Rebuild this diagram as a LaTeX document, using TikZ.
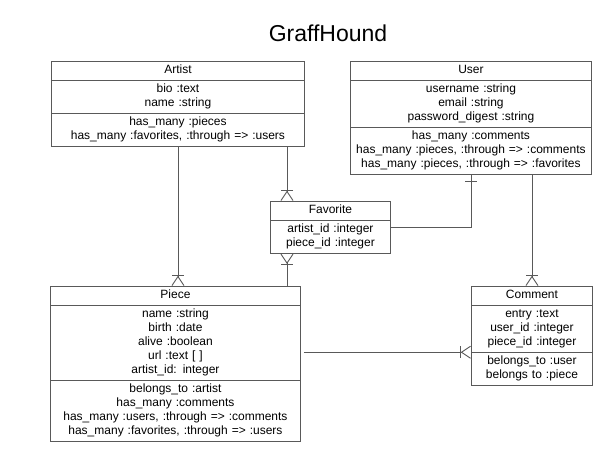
\documentclass[tikz,border=0pt]{standalone}
\usepackage{fontspec}
\setmainfont{Liberation Sans}
\usetikzlibrary{calc,arrows.meta,shapes.multipart,decorations.markings}
\newcommand{\rows}[1]{\strut#1\strut}

\begin{document}
\begin{tikzpicture}[x=1pt,y=-1pt,
    cls/.style={%
      rectangle split,
      rectangle split parts=#1,
      draw=black!65, line width=0.9pt,
      inner xsep=0pt, inner ysep=2pt,
      align=center, anchor=north west,
      font=\fontsize{12}{14}\selectfont
    },
    cls/.default=3,
    rel/.style={draw=black!65, line width=0.9pt},
    many/.style={-{Bar[width=12pt]Straight Barb[reversed,length=9pt,width=12pt]}},
    one/.style={postaction={decorate}, decoration={markings,
        mark=at position -7pt with {\draw[rel] (0pt,-6pt) -- (0pt,6pt);}}}
  ]
    \useasboundingbox (0,0) rectangle (613,460);

    \node (title) [anchor=base, font=\fontsize{23}{27}\selectfont] at (328,42) {GraffHound};

    \node (Artist) [cls, text width=253pt] at (51,61) {%
      \rows{Artist}
      \nodepart{two}\rows{bio :text\\name :string}
      \nodepart{three}\rows{has\_many :pieces\\has\_many :favorites, :through => :users}
    };
    \node (User) [cls, text width=241pt] at (350,61) {%
      \rows{User}
      \nodepart{two}\rows{username :string\\email :string\\password\_digest :string}
      \nodepart{three}\rows{has\_many :comments\\has\_many :pieces, :through => :comments\\has\_many :pieces, :through => :favorites}
    };
    \node (Favorite) [cls=2, text width=120pt] at (270,201) {%
      \rows{Favorite}
      \nodepart{two}\rows{artist\_id :integer\\piece\_id :integer}
    };
    \node (Piece) [cls, text width=250pt] at (50,286) {%
      \rows{Piece}
      \nodepart{two}\rows{name :string\\birth :date\\alive :boolean\\url :text [ ]\\artist\_id: integer}
      \nodepart{three}\rows{belongs\_to :artist\\has\_many :comments\\has\_many :users, :through => :comments\\has\_many :favorites, :through => :users}
    };
    \node (Comment) [cls, text width=121pt] at (471,286) {%
      \rows{Comment}
      \nodepart{two}\rows{entry :text\\user\_id :integer\\piece\_id :integer}
      \nodepart{three}\rows{belongs\_to :user\\belongs to :piece}
    };

    \coordinate (fav) at ($(Favorite.north west)+(17,0)$);

    \path[rel] (Artist.south)                      edge[many]           (Artist.south |- Piece.north)
               (fav |- Artist.south)               edge[many]           (fav)
               (fav |- Piece.north)                edge[many]           (fav |- Favorite.south)
               (Comment.north |- User.south)       edge[many]           (Comment.north)
               (Comment.two split west -| Piece.east) edge[many, shorten <=3pt] (Comment.two split west);
    \draw[rel, one] (Favorite.east) -| (User.south);
\end{tikzpicture}
\end{document}
